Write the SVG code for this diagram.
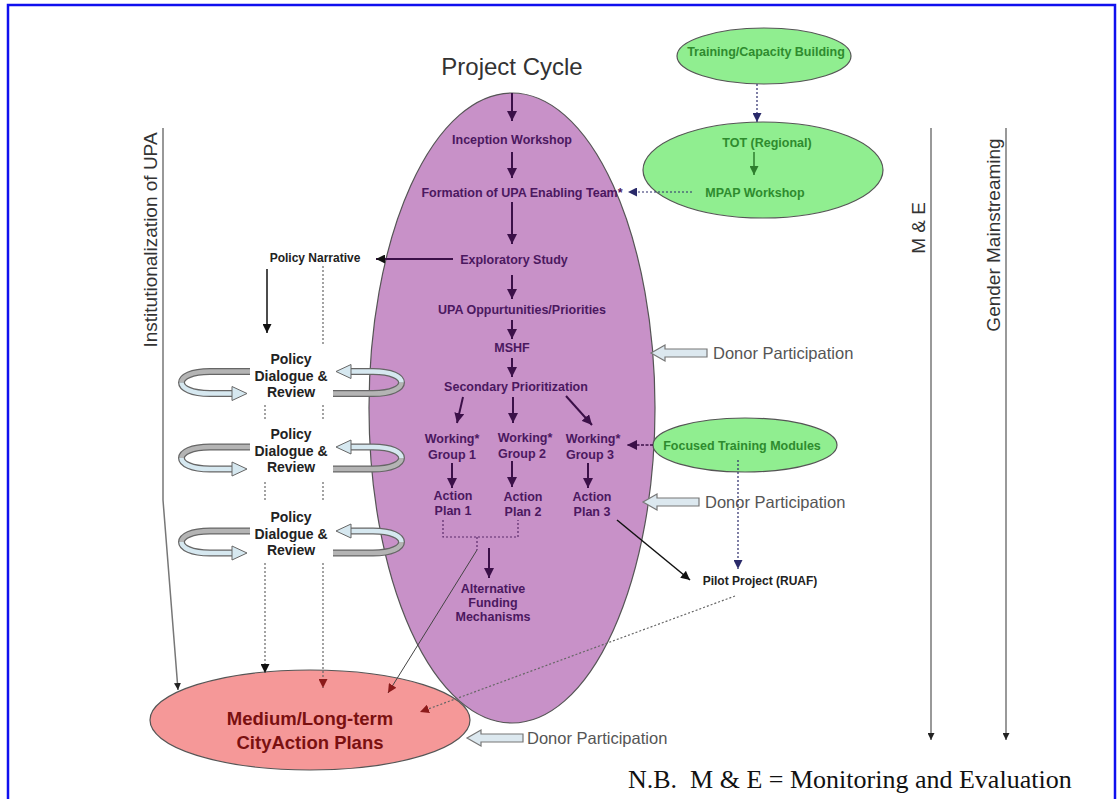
<svg xmlns="http://www.w3.org/2000/svg" width="1119" height="799" viewBox="0 0 1119 799">
<style>
.pt{font-family:"Liberation Sans",Arial,sans-serif;font-weight:bold;font-size:12.5px;fill:#4b1860;text-anchor:middle}
.gt{font-family:"Liberation Sans",Arial,sans-serif;font-weight:bold;font-size:12.5px;fill:#2e8b2e;text-anchor:middle}
.bt{font-family:"Liberation Sans",Arial,sans-serif;font-weight:bold;fill:#222;text-anchor:middle}
.lab{font-family:"Liberation Sans",Arial,sans-serif;font-size:19px;fill:#333;text-anchor:middle}
.don{font-family:"Liberation Sans",Arial,sans-serif;font-size:16.5px;fill:#555}
.pa{stroke:#3b1048;stroke-width:2;fill:none}
.dot{stroke:#666;stroke-width:1.2;stroke-dasharray:2 2;fill:none}
.ndot{stroke:#2a2a6a;stroke-width:1.2;stroke-dasharray:2 2;fill:none}
.axis{stroke:#777;stroke-width:1.5;fill:none}
.blk{fill:#dce8ef;stroke:#777;stroke-width:1.2}
</style>
<defs>
<marker id="mp" viewBox="0 0 10 10" refX="10" refY="5" markerWidth="10" markerHeight="10" markerUnits="userSpaceOnUse" orient="auto"><path d="M0,0 L10,5 L0,10 z" fill="#3b1048"/></marker>
<marker id="mb" viewBox="0 0 10 10" refX="10" refY="5" markerWidth="10" markerHeight="9" markerUnits="userSpaceOnUse" orient="auto"><path d="M0,0 L10,5 L0,10 z" fill="#111"/></marker>
<marker id="ms" viewBox="0 0 10 10" refX="10" refY="5" markerWidth="7" markerHeight="7" markerUnits="userSpaceOnUse" orient="auto"><path d="M0,0 L10,5 L0,10 z" fill="#222"/></marker>
<marker id="mr" viewBox="0 0 10 10" refX="10" refY="5" markerWidth="9" markerHeight="9" markerUnits="userSpaceOnUse" orient="auto"><path d="M0,0 L10,5 L0,10 z" fill="#8b1a1a"/></marker>
<marker id="mn" viewBox="0 0 10 10" refX="10" refY="5" markerWidth="9" markerHeight="9" markerUnits="userSpaceOnUse" orient="auto"><path d="M0,0 L10,5 L0,10 z" fill="#2a2a6a"/></marker>
<marker id="mg" viewBox="0 0 10 10" refX="10" refY="5" markerWidth="9" markerHeight="9" markerUnits="userSpaceOnUse" orient="auto"><path d="M0,0 L10,5 L0,10 z" fill="#2e7d2e"/></marker>
<g id="ring">
<path d="M250,-11 L210,-11 C172,-11 172,11 210,11 L234,11" fill="none" stroke="#666" stroke-width="7"/>
<path d="M250,-11 L210,-11 C191,-11 181.5,-5.5 181.5,0" fill="none" stroke="#b4b4b4" stroke-width="4.5"/>
<path d="M181.5,0 C181.5,5.5 191,11 210,11 L234,11" fill="none" stroke="#d6e8f0" stroke-width="4.5"/>
<path d="M232,4 L247,11 L232,18 z" fill="#d6e8f0" stroke="#666" stroke-width="1"/>
</g>
<g id="donor"><path d="M0,0 L14,-8 L14,-4 L56,-4 L56,4 L14,4 L14,8 z" class="blk"/></g>
</defs>
<rect width="1119" height="799" fill="#fff"/>
<path d="M8,799 V5 H1115 V799" fill="none" stroke="#1010ee" stroke-width="2.5"/>

<g id="project-cycle">
<ellipse cx="512" cy="408" rx="143" ry="315" fill="#c891c8" stroke="#555" stroke-width="1.2"/>
<text x="512" y="75" font-family="Liberation Sans,Arial,sans-serif" font-size="24" fill="#333" text-anchor="middle">Project Cycle</text>
</g>

<g id="inception"><text class="pt" x="512" y="144">Inception Workshop</text></g>
<g id="formation"><text class="pt" x="522" y="197">Formation of UPA Enabling Team*</text></g>
<g id="exploratory"><text class="pt" x="514" y="264">Exploratory Study</text></g>
<g id="upa-opp"><text class="pt" x="522" y="314">UPA Oppurtunities/Priorities</text></g>
<g id="mshf"><text class="pt" x="512" y="352">MSHF</text></g>
<g id="secondary"><text class="pt" x="516" y="391">Secondary Prioritization</text></g>
<g id="wg1"><text class="pt" x="452" y="443">Working*</text><text class="pt" x="452" y="459">Group 1</text></g>
<g id="wg2"><text class="pt" x="525" y="442">Working*</text><text class="pt" x="522" y="458">Group 2</text></g>
<g id="wg3"><text class="pt" x="593" y="443">Working*</text><text class="pt" x="590" y="459">Group 3</text></g>
<g id="ap1"><text class="pt" x="453" y="500">Action</text><text class="pt" x="453" y="515">Plan 1</text></g>
<g id="ap2"><text class="pt" x="523" y="501">Action</text><text class="pt" x="523" y="516">Plan 2</text></g>
<g id="ap3"><text class="pt" x="592" y="501">Action</text><text class="pt" x="592" y="516">Plan 3</text></g>
<g id="altfund"><text class="pt" x="493" y="593">Alternative</text><text class="pt" x="493" y="607">Funding</text><text class="pt" x="493" y="621">Mechanisms</text></g>

<g id="training">
<ellipse cx="764" cy="56" rx="87" ry="28" fill="#90ee90" stroke="#555" stroke-width="1.2"/>
<text class="gt" x="766" y="56">Training/Capacity Building</text>
</g>
<g id="tot">
<ellipse cx="763" cy="170" rx="120" ry="48" fill="#90ee90" stroke="#555" stroke-width="1.2"/>
<text class="gt" x="767" y="147">TOT (Regional)</text>
<text class="gt" x="755" y="197">MPAP Workshop</text>
</g>
<g id="focused">
<ellipse cx="745" cy="445" rx="92" ry="27" fill="#90ee90" stroke="#555" stroke-width="1.2"/>
<text class="gt" x="742" y="450">Focused Training Modules</text>
</g>
<g id="pilot"><text class="bt" font-size="12" x="760" y="585">Pilot Project (RUAF)</text></g>
<g id="medium">
<ellipse cx="310" cy="720" rx="160" ry="50" fill="#f59898" stroke="#555" stroke-width="1.2"/>
<text class="bt" font-size="18.5" x="310" y="725" style="fill:#7a1010">Medium/Long-term</text>
<text class="bt" font-size="18.5" x="310" y="749" style="fill:#7a1010">CityAction Plans</text>
</g>
<g id="policy-narrative"><text class="bt" font-size="12" x="315" y="262">Policy Narrative</text></g>
<g id="policy1">
<use href="#ring" transform="translate(0,382.5)"/>
<use href="#ring" transform="rotate(180,291.5,382.5) translate(0,382.5)"/>
<text class="bt" font-size="14" x="291" y="364">Policy</text><text class="bt" font-size="14" x="291" y="381">Dialogue &amp;</text><text class="bt" font-size="14" x="291" y="397">Review</text>
</g>
<g id="policy2">
<use href="#ring" transform="translate(0,458)"/>
<use href="#ring" transform="rotate(180,291.5,458) translate(0,458)"/>
<text class="bt" font-size="14" x="291" y="439">Policy</text><text class="bt" font-size="14" x="291" y="456">Dialogue &amp;</text><text class="bt" font-size="14" x="291" y="472">Review</text>
</g>
<g id="policy3">
<use href="#ring" transform="translate(0,542)"/>
<use href="#ring" transform="rotate(180,291.5,542) translate(0,542)"/>
<text class="bt" font-size="14" x="291" y="522">Policy</text><text class="bt" font-size="14" x="291" y="539">Dialogue &amp;</text><text class="bt" font-size="14" x="291" y="555">Review</text>
</g>
<g id="donor1"><use href="#donor" transform="translate(651,353)"/><text class="don" x="713" y="359">Donor Participation</text></g>
<g id="donor2"><use href="#donor" transform="translate(643,502)"/><text class="don" x="705" y="508">Donor Participation</text></g>
<g id="donor3"><use href="#donor" transform="translate(467,738)"/><text class="don" x="527" y="744">Donor Participation</text></g>

<g id="axes">
<text class="lab" transform="translate(157,240) rotate(-90)">Institutionalization of UPA</text>
<text class="lab" transform="translate(925,228) rotate(-90)">M &amp; E</text>
<text class="lab" transform="translate(1000,235) rotate(-90)">Gender Mainstreaming</text>
<path class="axis" d="M163,128 V500 L178,690" marker-end="url(#ms)"/>
<path class="axis" d="M931,128 V740" marker-end="url(#ms)"/>
<path class="axis" d="M1006,128 V740" marker-end="url(#ms)"/>
</g>

<g id="connectors">
<path class="pa" d="M512,93 V121" marker-end="url(#mp)"/>
<path class="pa" d="M512,152 V178" marker-end="url(#mp)"/>
<path class="pa" d="M512,202 V244" marker-end="url(#mp)"/>
<path class="pa" d="M512,275 V299" marker-end="url(#mp)"/>
<path class="pa" d="M512,320 V339" marker-end="url(#mp)"/>
<path class="pa" d="M512,358 V377" marker-end="url(#mp)"/>
<path class="pa" d="M463,397 L457,423" marker-end="url(#mp)"/>
<path class="pa" d="M513,397 V423" marker-end="url(#mp)"/>
<path class="pa" d="M566,396 L592,425" marker-end="url(#mp)"/>
<path class="pa" d="M452,463 V488" marker-end="url(#mp)"/>
<path class="pa" d="M512,461 V487" marker-end="url(#mp)"/>
<path class="pa" d="M588,463 V488" marker-end="url(#mp)"/>
<path class="pa" d="M489,548 V578" marker-end="url(#mp)"/>
<path d="M453,259 H376" stroke="#3b1048" stroke-width="2" fill="none" marker-end="url(#mb)"/>
<path d="M443,520 V537 H518 V520 M477,537 V550" fill="none" stroke="#5a2a6a" stroke-width="1.2" stroke-dasharray="2 2"/>
<path d="M477,550 L388,693" fill="none" stroke="#444" stroke-width="1" marker-end="url(#mr)"/>
<path d="M617,520 L690,580" fill="none" stroke="#111" stroke-width="1.5" marker-end="url(#mb)"/>
<path d="M653,445 H627" fill="none" stroke="#3b1048" stroke-width="1.3" stroke-dasharray="3 1.5" marker-end="url(#mp)"/>
<path class="ndot" d="M738,460 V569" marker-end="url(#mn)"/>
<path class="dot" d="M735,596 L420,712" marker-end="url(#mr)"/>
<path class="ndot" d="M757,84 V122" marker-end="url(#mn)"/>
<path d="M754,152 V175" stroke="#2e7d2e" stroke-width="1.5" fill="none" marker-end="url(#mg)"/>
<path class="ndot" d="M692,192 H628" marker-end="url(#mn)"/>
<path d="M267,269 V333" stroke="#111" stroke-width="1.5" fill="none" marker-end="url(#mb)"/>
<path class="dot" d="M323,266 V344 M323,405 V421 M323,482 V500 M265,405 V421 M265,482 V500"/>
<path class="dot" d="M265,563 V673" marker-end="url(#mb)"/>
<path class="dot" d="M323,563 V688" marker-end="url(#mr)"/>
</g>

<text x="628" y="788" font-family="Liberation Serif,Times New Roman,serif" font-size="26" fill="#111" xml:space="preserve">N.B.  M &amp; E = Monitoring and Evaluation</text>
</svg>
